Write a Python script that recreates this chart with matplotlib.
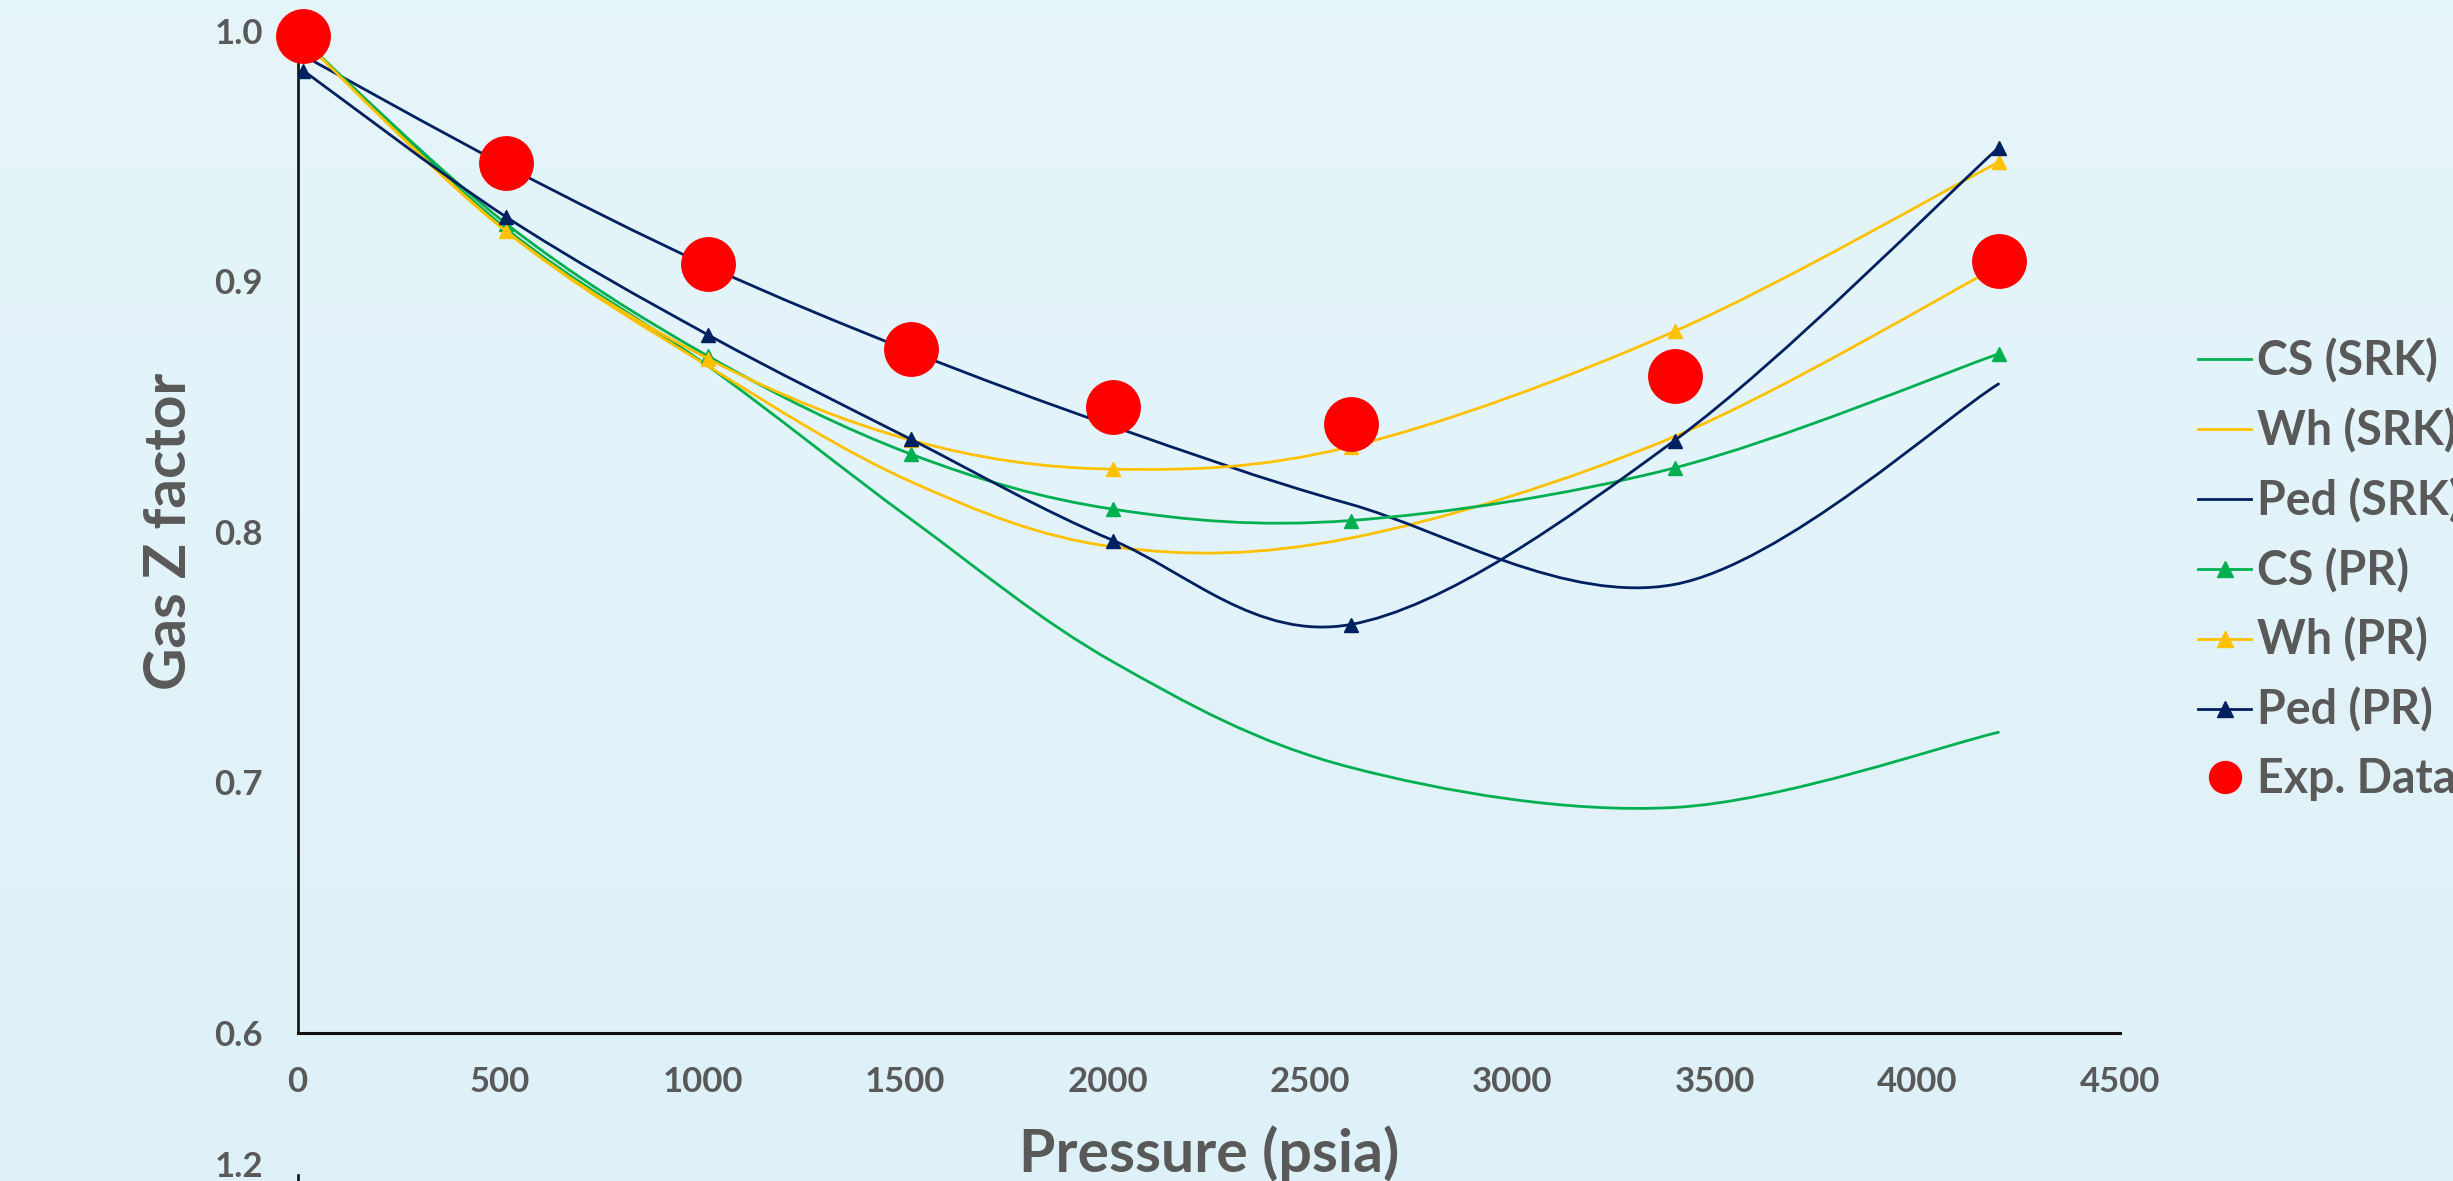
import numpy as np
import matplotlib
matplotlib.use("Agg")
import matplotlib.pyplot as plt
from matplotlib.path import Path
from matplotlib.patches import PathPatch
from matplotlib.lines import Line2D

# ---------------- data ----------------
pressure = [14.7, 514.7, 1014.7, 1514.7, 2014.7, 2600, 3400, 4200]
cs_srk = [0.996, 0.921, 0.866, 0.805, 0.748, 0.706, 0.690, 0.720]
wh_srk = [0.996, 0.920, 0.866, 0.820, 0.794, 0.7975, 0.838, 0.906]
ped_srk = [0.990, 0.946, 0.906, 0.872, 0.842, 0.811, 0.779, 0.859]
cs_pr = [0.996, 0.923, 0.870, 0.831, 0.809, 0.8045, 0.8255, 0.871]
wh_pr = [0.996, 0.920, 0.869, 0.8366, 0.825, 0.834, 0.880, 0.9475]
ped_pr = [0.984, 0.9257, 0.8785, 0.8369, 0.7965, 0.763, 0.8364, 0.9532]
exp_data = [0.998, 0.947, 0.907, 0.873, 0.850, 0.843, 0.862, 0.908]

series_labels = ["CS (SRK)", "Wh (SRK)", "Ped (SRK)", "CS (PR)", "Wh (PR)", "Ped (PR)"]
exp_label = "Exp. Data"
x_ticks = [0, 500, 1000, 1500, 2000, 2500, 3000, 3500, 4000, 4500]
y_ticks = [0.6, 0.7, 0.8, 0.9, 1.0]

GREEN = "#00B050"
YELLOW = "#FFC000"
NAVY = "#002060"
RED = "#FF0000"
GRAY = "#595959"

plt.rcParams["font.family"] = ["Lato", "DejaVu Sans"]
plt.rcParams["font.weight"] = "bold"

W, H = 2453, 1181
fig = plt.figure(figsize=(W / 100, H / 100), dpi=100)

# background gradient
bg = fig.add_axes([0, 0, 1, 1], zorder=-10)
top = np.array([0.898, 0.961, 0.980])
bot = np.array([0.871, 0.945, 0.973])
t = np.linspace(0, 1, 256)[:, None]
grad = (top[None, :] * (1 - t) + bot[None, :] * t)[:, None, :]
bg.imshow(grad, aspect="auto", extent=[0, 1, 0, 1])
bg.axis("off")

ax_left, ax_right, ax_top, ax_bot = 297.5, 2120, 30.6, 1033
ax = fig.add_axes([ax_left / W, 1 - ax_bot / H, (ax_right - ax_left) / W, (ax_bot - ax_top) / H])
ax.patch.set_alpha(0)
ax.set_xlim(0, 4500)
ax.set_ylim(0.6, 1.0)


def smooth_path(x, y):
    pts = np.column_stack([x, y]).astype(float)
    n = len(pts)
    verts = [pts[0]]
    codes = [Path.MOVETO]
    for i in range(n - 1):
        p0 = pts[i - 1] if i > 0 else pts[i]
        p1 = pts[i]
        p2 = pts[i + 1]
        p3 = pts[i + 2] if i + 2 < n else pts[i + 1]
        c1 = p1 + (p2 - p0) / 6.0
        c2 = p2 - (p3 - p1) / 6.0
        verts += [c1, c2, p2]
        codes += [Path.CURVE4] * 3
    return Path(verts, codes)


LW = 2.0
series = [
    (cs_srk, GREEN, False),
    (wh_srk, YELLOW, False),
    (ped_srk, NAVY, False),
    (cs_pr, GREEN, True),
    (wh_pr, YELLOW, True),
    (ped_pr, NAVY, True),
]
handles = []
for k, (vals, col, mk) in enumerate(series):
    patch = PathPatch(smooth_path(pressure, vals), facecolor="none", edgecolor=col,
                      lw=LW, transform=ax.transData, zorder=2 + k, capstyle="round",
                      joinstyle="round")
    ax.add_patch(patch)
    if mk:
        ax.plot(pressure, vals, linestyle="none", marker="^", markersize=10,
                color=col, zorder=2 + k)
    handles.append(Line2D([], [], color=col, lw=LW, marker="^" if mk else None,
                          markersize=11))

ax.plot(pressure, exp_data, linestyle="none", marker="o", markersize=39.5,
        color=RED, markeredgewidth=0, zorder=20, clip_on=False)
handles.append(Line2D([], [], linestyle="none", marker="o", markersize=24,
                      color=RED, markeredgewidth=0))

# spines & ticks
for s in ["top", "right"]:
    ax.spines[s].set_visible(False)
ax.spines["left"].set_linewidth(1.9)
ax.spines["left"].set_color("#111111")
ax.spines["bottom"].set_linewidth(2.2)
ax.spines["bottom"].set_color("#111111")
ax.set_xticks(x_ticks)
ax.set_xticklabels([str(v) for v in x_ticks])
ax.set_yticks(y_ticks)
ax.set_yticklabels([f"{v:.1f}" for v in y_ticks])
ax.tick_params(axis="both", length=0, labelsize=25, labelcolor=GRAY)
ax.tick_params(axis="x", pad=24)
ax.tick_params(axis="y", pad=25)

ax.set_ylabel("Gas Z factor", fontsize=42, color=GRAY, fontweight="bold")
ax.yaxis.set_label_coords((169 - ax_left) / (ax_right - ax_left), 0.5)
ax.yaxis.label.set_verticalalignment("center")
ax.set_xlabel("Pressure (psia)", fontsize=42.5, color=GRAY, fontweight="bold")
ax.xaxis.set_label_coords(0.5, (ax_bot - 1172) / (ax_bot - ax_top))
ax.xaxis.label.set_verticalalignment("baseline")

leg = ax.legend(handles, series_labels + [exp_label], loc="upper left",
                bbox_to_anchor=(2198 / W, 1 - 338 / H), bbox_transform=fig.transFigure,
                frameon=False, fontsize=33.5, handlelength=53 / 46.5, handletextpad=6 / 46.5,
                labelspacing=0.53, borderpad=0, borderaxespad=0, labelcolor=GRAY,
                numpoints=1)

# start of the next chart peeking in at the bottom
fig.text(239 / W, 1 - 1151 / H, "1.2", ha="center", va="top", fontsize=25,
         color=GRAY, fontweight="bold")
fig.add_artist(Line2D([ax_left / W, ax_left / W], [0, 1 - 1175 / H],
                      transform=fig.transFigure, color="#111111", lw=1.9))

fig.savefig("out.png", dpi=100)
